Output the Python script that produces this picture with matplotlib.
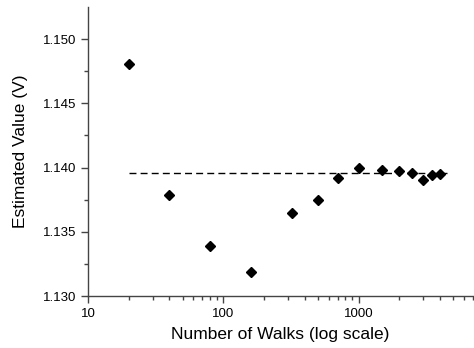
import matplotlib
matplotlib.use("Agg")
import matplotlib.pyplot as plt
from matplotlib.ticker import FixedLocator, LogLocator, NullFormatter, FuncFormatter

plt.rcParams['font.family'] = ['Liberation Sans', 'DejaVu Sans']

walks = [20, 40, 80, 160, 320, 500, 700, 1000, 1500, 2000, 2500, 3000, 3500, 4000]
estimates = [1.1481, 1.1379, 1.1339, 1.1319, 1.1365, 1.1375, 1.1392, 1.1400,
             1.1398, 1.1397, 1.1396, 1.1390, 1.1394, 1.1395]
reference_x = [20, 4500]
reference_value = 1.13955
y_ticks = [1.130, 1.135, 1.140, 1.145, 1.150]
x_ticks = [10, 100, 1000]

fig = plt.figure(figsize=(4.74, 3.48), dpi=100)
ax = fig.add_axes([0.1857, 0.149, 0.812, 0.831])

ax.plot(reference_x, [reference_value, reference_value], color='black',
        linestyle=(0, (5, 3)), linewidth=1.0)
ax.plot(walks, estimates, linestyle='none', marker='D', markersize=5,
        color='black')

ax.set_xscale('log')
ax.set_xlim(10, 7000)
ax.set_ylim(1.130, 1.1525)
ax.xaxis.set_major_locator(FixedLocator(x_ticks))
ax.xaxis.set_major_formatter(FuncFormatter(lambda v, p: f"{int(v)}"))
ax.xaxis.set_minor_locator(LogLocator(base=10, subs=range(2, 10)))
ax.xaxis.set_minor_formatter(NullFormatter())
ax.yaxis.set_major_locator(FixedLocator(y_ticks))
ax.yaxis.set_major_formatter(FuncFormatter(lambda v, p: f"{v:.3f}"))
ax.yaxis.set_minor_locator(FixedLocator([1.1325, 1.1375, 1.1425, 1.1475]))

for s in ['top', 'right']:
    ax.spines[s].set_visible(False)
for s in ['left', 'bottom']:
    ax.spines[s].set_color('#444444')
    ax.spines[s].set_linewidth(1.0)
ax.tick_params(which='major', direction='out', length=5, width=1,
               color='#444444', labelsize=9.5)
ax.tick_params(which='minor', direction='out', length=3, width=1,
               color='#444444')

ax.set_xlabel('Number of Walks (log scale)', fontsize=12.5, labelpad=5)
ax.set_ylabel('Estimated Value (V)', fontsize=12.5, labelpad=11)

fig.savefig('out.png', dpi=100)
